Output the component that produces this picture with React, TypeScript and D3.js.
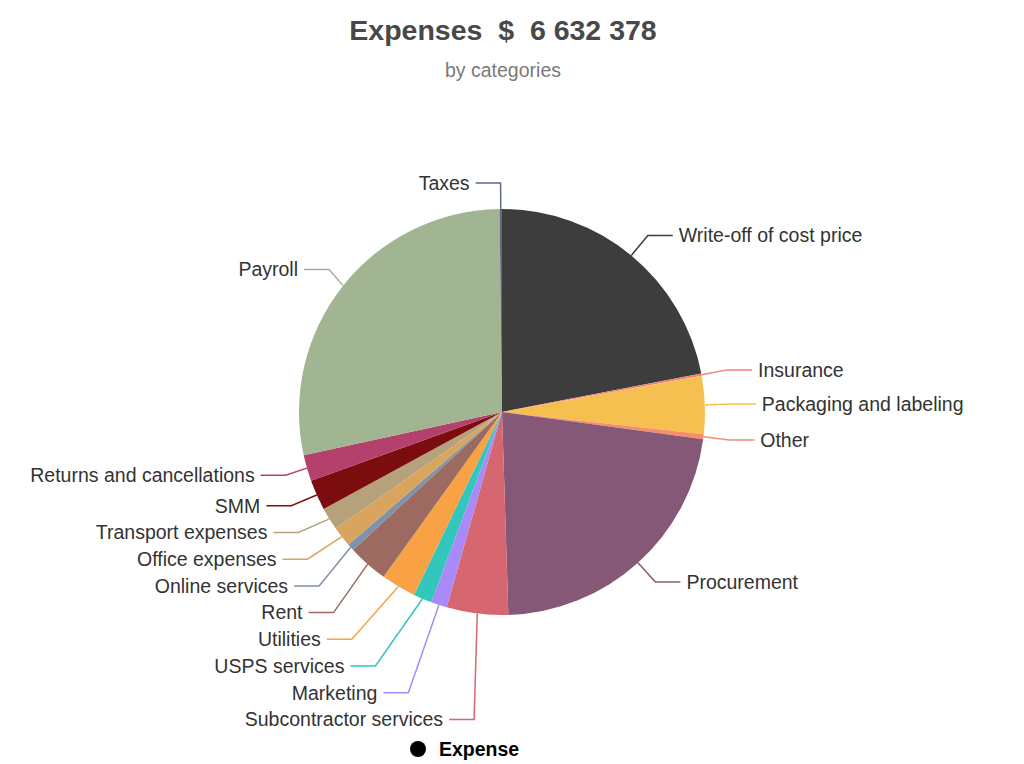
import { useCallback, useEffect, useRef } from "react";
import * as d3 from "d3";

const titleText = "Expenses  $  6 632 378";
const subtitleText = "by categories";
const seriesName = "Expense";

const categories = [
  "Write-off of cost price",
  "Insurance",
  "Packaging and labeling",
  "Other",
  "Procurement",
  "Subcontractor services",
  "Marketing",
  "USPS services",
  "Utilities",
  "Rent",
  "Online services",
  "Office expenses",
  "Transport expenses",
  "SMM",
  "Returns and cancellations",
  "Payroll",
  "Taxes",
];

const amounts = [
  1457300, 11000, 305800, 25800, 1483100, 324200, 84700, 97600, 184200,
  211900, 36800, 106900, 119800, 160300, 138200, 1871800, 12900,
];

const sliceColors = [
  "#3d3d3d", "#f0807a", "#f5c04f", "#f88d6b", "#865878", "#d6666f",
  "#a98af8", "#33c6bc", "#f9a245", "#9c6a60", "#7d92ab", "#d9a55e",
  "#b5a27c", "#7c0d0f", "#b4416c", "#a2b592", "#5e6a7d",
];

interface LabelItem {
  name: string;
  color: string;
  dir: number;
  ex: number;
  ey: number;
  bx: number;
  y: number;
}

export default function App() {
  const chart = useRef<SVGSVGElement | null>(null);
  const width = 1024;
  const height = 764;
  const cx = 502;
  const cy = 412;
  const radius = 203;
  const len = 26;
  const len2 = 25;
  const gap = 6;
  const lineH = 26.7;
  const font = "Liberation Sans, Arial, sans-serif";

  const drawChart = useCallback(() => {
    const svg = d3.select(chart.current).attr("width", width).attr("height", height);
    svg.selectAll("*").remove();

    svg.append("text")
      .attr("x", 503)
      .attr("y", 40)
      .attr("text-anchor", "middle")
      .attr("font-family", font)
      .attr("font-size", "28.5px")
      .attr("font-weight", "700")
      .attr("fill", "#484848")
      .style("white-space", "pre")
      .text(titleText);

    svg.append("text")
      .attr("x", 503)
      .attr("y", 77)
      .attr("text-anchor", "middle")
      .attr("font-family", font)
      .attr("font-size", "19.5px")
      .attr("fill", "#7a7a7a")
      .text(subtitleText);

    const pie = d3.pie<number>().sort(null).startAngle(0).endAngle(2 * Math.PI);
    const arcs = pie(amounts);
    const arc = d3.arc<d3.PieArcDatum<number>>().innerRadius(0).outerRadius(radius);

    const g = svg.append("g").attr("transform", `translate(${cx},${cy})`);
    g.selectAll("path")
      .data(arcs)
      .enter()
      .append("path")
      .attr("d", (d) => arc(d) as string)
      .attr("fill", (d, i) => sliceColors[i]);

    // label layout: radial segment, then horizontal one; labels pushed apart vertically
    const rA = radius + len;
    const items: LabelItem[] = arcs.map((a, i) => {
      const mid = (a.startAngle + a.endAngle) / 2;
      const s = Math.sin(mid);
      const c = Math.cos(mid);
      return {
        name: categories[i],
        color: sliceColors[i],
        dir: s >= 0 ? 1 : -1,
        ex: cx + radius * s,
        ey: cy - radius * c,
        bx: cx + rA * s,
        y: cy - rA * c,
      };
    });

    [1, -1].forEach((dir) => {
      const side = items.filter((d) => d.dir === dir).sort((a, b) => a.y - b.y);
      let adjusted = false;
      for (let i = 1; i < side.length; i++) {
        const minY = side[i - 1].y + lineH;
        if (side[i].y < minY) {
          side[i].y = minY;
          adjusted = true;
        }
      }
      if (!adjusted) return;
      const rE = rA - 8;
      [side.filter((d) => d.y <= cy), side.filter((d) => d.y > cy)].forEach((semi) => {
        let maxY = -1;
        let rB = rE;
        semi.forEach((d) => {
          const dy = Math.abs(d.y - cy);
          if (dy >= maxY) {
            const dx = d.bx - cx;
            rB = Math.abs(dx) < rE ? Math.sqrt((dy * dy) / (1 - (dx * dx) / (rE * rE))) : rE;
            maxY = dy;
          }
        });
        semi.forEach((d) => {
          const dy = Math.abs(d.y - cy);
          const dx = Math.sqrt(Math.max(0, 1 - (dy * dy) / (rB * rB))) * rE;
          d.bx = cx + dx * dir;
        });
      });
    });

    const lbl = svg.append("g");
    items.forEach((d) => {
      lbl.append("polyline")
        .attr("points", `${d.ex},${d.ey} ${d.bx},${d.y} ${d.bx + d.dir * len2},${d.y}`)
        .attr("fill", "none")
        .attr("stroke", d.color)
        .attr("stroke-width", 1.5);
      lbl.append("text")
        .attr("x", d.bx + d.dir * (len2 + gap))
        .attr("y", d.y)
        .attr("dy", "0.35em")
        .attr("text-anchor", d.dir > 0 ? "start" : "end")
        .attr("font-family", font)
        .attr("font-size", "19.5px")
        .attr("fill", "#333")
        .text(d.name);
    });

    const legend = svg.append("g").attr("transform", "translate(418,749)");
    legend.append("circle").attr("r", 8).attr("fill", "#000");
    legend.append("text")
      .attr("x", 21)
      .attr("dy", "0.35em")
      .attr("font-family", font)
      .attr("font-size", "19.5px")
      .attr("font-weight", "700")
      .attr("fill", "#000")
      .text(seriesName);
  }, []);

  useEffect(() => {
    drawChart();
  }, [drawChart]);

  return (
    <div style={{ position: "absolute", left: 0, top: 0, background: "#fff" }}>
      <svg ref={chart} style={{ display: "block" }}></svg>
    </div>
  );
}
